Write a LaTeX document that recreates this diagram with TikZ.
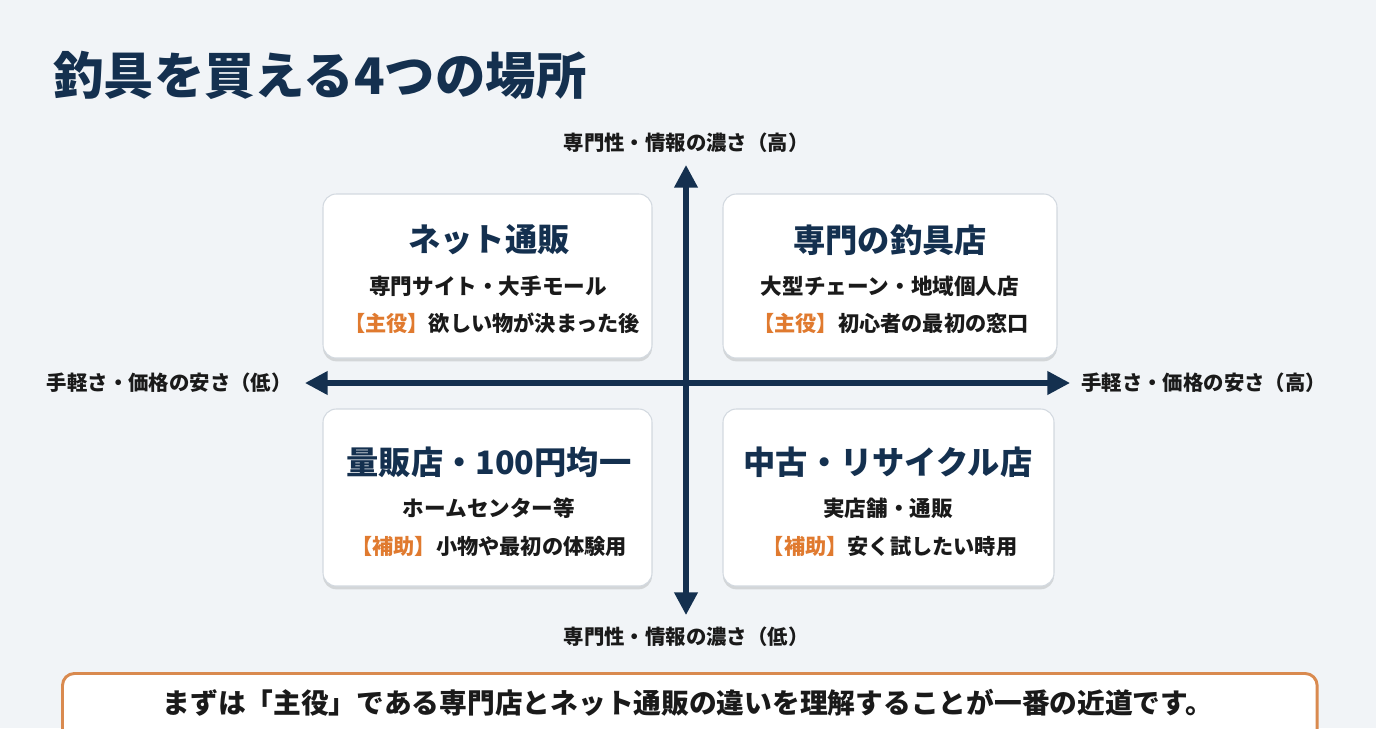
\documentclass[tikz,border=0pt]{standalone}
\usepackage{fontspec}
\setmainfont{Noto Sans CJK JP}
\usetikzlibrary{arrows.meta,shadows}
\definecolor{bgc}{HTML}{F1F4F7}
\definecolor{navy}{HTML}{14304F}
\definecolor{ink}{HTML}{1A1A1A}
\definecolor{accent}{HTML}{E07A2F}
\definecolor{boxline}{HTML}{D3D9E0}
\definecolor{bannerline}{HTML}{D98A4F}
\tikzset{
  card/.style={draw=boxline, line width=0.8pt, fill=white, rounded corners=10pt,
    drop shadow={shadow xshift=0pt, shadow yshift=-2.5pt, opacity=0.12, fill=black}},
  cardtitle/.style={font=\bfseries\fontsize{24.2}{28}\selectfont, text=navy, inner sep=0pt},
  cardsub/.style={font=\bfseries\fontsize{16.2}{19}\selectfont, text=ink, inner sep=0pt},
  cardrole/.style={font=\bfseries\fontsize{15.9}{19}\selectfont, text=ink, inner sep=0pt},
  axislabel/.style={font=\bfseries\fontsize{15.3}{18}\selectfont, text=ink, inner sep=0pt},
  axisline/.style={draw=navy, line width=3.8pt, {Triangle[length=17pt,width=17pt]}-{Triangle[length=17pt,width=17pt]}},
}
\newcommand{\tag}[1]{\textcolor{accent}{【#1】}}
\begin{document}
\begin{tikzpicture}[x=0.75pt,y=-0.75pt]
\useasboundingbox (0,0) rectangle (1376,728);
\fill[bgc] (0,0) rectangle (1376,728);

% title
\node[anchor=west, inner sep=0pt, font=\bfseries\fontsize{37.8}{42}\selectfont, text=navy] (title) at (53,75) {釣具を買える4つの場所};

% axes
\coordinate (top) at (686,165);
\coordinate (bot) at (686,615);
\coordinate (lft) at (305,383);
\coordinate (rgt) at (1070,383);
\draw[axisline] (lft) -- (rgt);
\draw[axisline] (bot) -- (top);

\node[axislabel] (ltop) at (686,143) {専門性・情報の濃さ（高）};
\node[axislabel] (lbot) at (686,637) {専門性・情報の濃さ（低）};
\node[axislabel, anchor=east] (llft) at (292,383) {手軽さ・価格の安さ（低）};
\node[axislabel, anchor=west] (lrgt) at (1081,383) {手軽さ・価格の安さ（高）};

% cards
\node[card, minimum width=246.75pt, minimum height=123pt] (net) at (487.5,276) {};
\node[card, minimum width=250.5pt, minimum height=123pt] (pro) at (890,276) {};
\node[card, minimum width=246.75pt, minimum height=132.75pt] (mass) at (487.5,497.5) {};
\node[card, minimum width=248.25pt, minimum height=132.75pt] (used) at (888.5,497.5) {};

\node[cardtitle] (netT) at (489,240) {ネット通販};
\node[cardsub] (netS) at (488,286) {専門サイト・大手モール};
\node[cardrole] (netR) at (492,323) {\tag{主役}欲しい物が決まった後};

\node[cardtitle] (proT) at (890,240) {専門の釣具店};
\node[cardsub] (proS) at (890,286) {大型チェーン・地域個人店};
\node[cardrole] (proR) at (891,323) {\tag{主役}初心者の最初の窓口};

\node[cardtitle] (massT) at (489,462) {量販店・100円均一};
\node[cardsub] (massS) at (489,508) {ホームセンター等};
\node[cardrole] (massR) at (489,546) {\tag{補助}小物や最初の体験用};

\node[cardtitle] (usedT) at (888,462) {中古・リサイクル店};
\node[cardsub] (usedS) at (888,508) {実店舗・通販};
\node[cardrole] (usedR) at (890,546) {\tag{補助}安く試したい時用};

% banner
\node[draw=bannerline, line width=2.2pt, fill=white, rounded corners=9pt,
  minimum width=941pt, minimum height=60pt, anchor=north west] (banner) at (61,672) {};
\node[inner sep=0pt, font=\bfseries\fontsize{20.8}{24}\selectfont, text=ink] (bannerT) at (688,703) {まずは「主役」である専門店とネット通販の違いを理解することが一番の近道です。};
\end{tikzpicture}
\end{document}
